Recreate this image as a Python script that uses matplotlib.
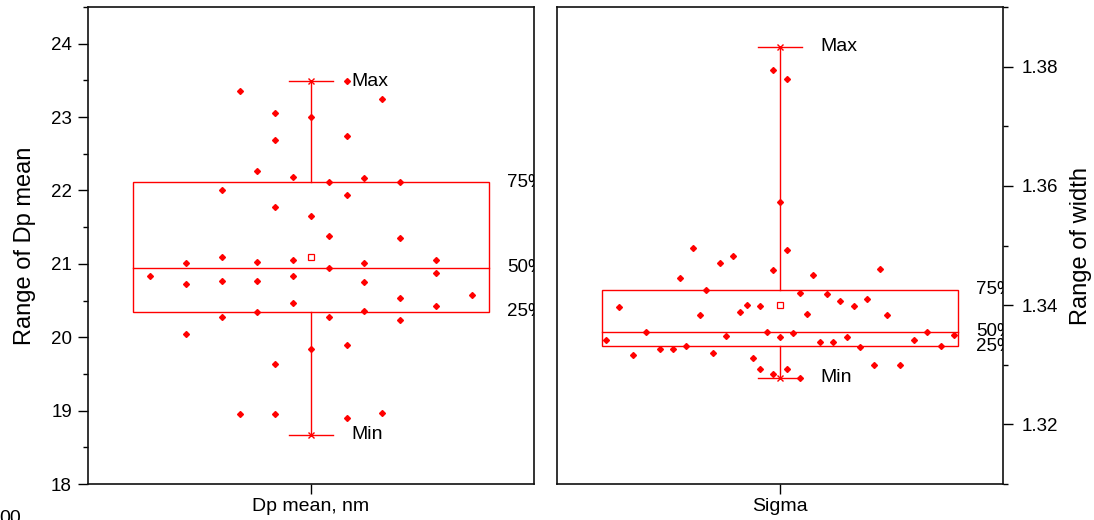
import matplotlib
matplotlib.use("Agg")
import matplotlib.pyplot as plt
from matplotlib.patches import Rectangle
from matplotlib.ticker import MultipleLocator, FormatStrFormatter

plt.rcParams['font.family'] = ['Liberation Sans', 'DejaVu Sans']

RED = '#FF0000'

# ---------------- data: Dp mean ----------------
dp_jitter = [-4, 2, -2, 0, 4, -2, 2, -3, -1, 1, 3, 5, -5, 2, -2, 0, 1, 5, -7, -5,
             -3, -1, 3, 7, 1, -9, 7, -7, -5, -3, -1, 3, 5, 9, -1, 7, -3, 3, -5, 1,
             5, -7, 0, 2, -2, -4, -2, 2, 4]
dp_values = [23.36, 23.49, 23.05, 23.00, 23.24, 22.69, 22.74, 22.27, 22.18, 22.11,
             22.17, 22.12, 22.01, 21.94, 21.77, 21.65, 21.38, 21.35, 21.01, 21.09,
             21.02, 21.05, 21.01, 21.05, 20.95, 20.84, 20.87, 20.73, 20.77, 20.77,
             20.84, 20.75, 20.54, 20.57, 20.46, 20.43, 20.35, 20.36, 20.27, 20.28,
             20.24, 20.05, 19.84, 19.90, 19.63, 18.96, 18.95, 18.90, 18.97]
# min, q1, median, q3, max, mean
dp_stats = [18.67, 20.35, 20.95, 22.11, 23.49, 21.10]

# ---------------- data: Sigma ----------------
sg_jitter = [-26, -24, -22, -20, -18, -16, -15, -14, -13, -12, -11, -10, -9, -8, -7,
             -6, -5, -4, -3, -3, -2, -1, -1, 0, 1, 1, 2, 3, 3, 4, 5, 6, 7, 8, 9, 10,
             11, 12, 13, 14, 15, 16, 18, 20, 22, 24, 26, -1, 1, 0]
sg_values = [1.3341, 1.3397, 1.3317, 1.3355, 1.3326, 1.3326, 1.3446, 1.3332, 1.3495,
             1.3383, 1.3426, 1.3319, 1.3470, 1.3348, 1.3483, 1.3389, 1.3401, 1.3312,
             1.3398, 1.3293, 1.3355, 1.3459, 1.3285, 1.3346, 1.3493, 1.3293, 1.3354,
             1.3420, 1.3278, 1.3385, 1.3450, 1.3338, 1.3418, 1.3338, 1.3407, 1.3346,
             1.3399, 1.3330, 1.3411, 1.3299, 1.3460, 1.3384, 1.3299, 1.3341, 1.3355,
             1.3331, 1.3350, 1.3794, 1.3779, 1.3573]
sg_stats = [1.3278, 1.3331, 1.3355, 1.3426, 1.3833, 1.3401]

pct_labels = ['25%', '50%', '75%']
x_labels = ['Dp mean, nm', 'Sigma']
y_labels = ['Range of Dp mean', 'Range of width']

fig = plt.figure(figsize=(10.94, 5.2), dpi=100)
axL = fig.add_axes([0.0804, 0.0692, 0.4077, 0.9173])
axR = fig.add_axes([0.5091, 0.0692, 0.4077, 0.9173])


def draw(ax, jitter, values, stats, spacing):
    mn, q1, med, q3, mx, mean = stats
    lw = 1.0
    ax.add_patch(Rectangle((-0.8, q1), 1.6, q3 - q1, fill=False, ec=RED, lw=lw, zorder=2))
    ax.plot([-0.8, 0.8], [med, med], color=RED, lw=lw, zorder=2)
    ax.plot([0, 0], [q3, mx], color=RED, lw=lw, zorder=2)
    ax.plot([0, 0], [mn, q1], color=RED, lw=lw, zorder=2)
    ax.plot([-0.1, 0.1], [mx, mx], color=RED, lw=lw, zorder=2)
    ax.plot([-0.1, 0.1], [mn, mn], color=RED, lw=lw, zorder=2)
    ax.plot([0, 0], [mn, mx], ls='none', marker='x', ms=5, mew=1.0, color=RED, zorder=3)
    ax.plot([0], [mean], ls='none', marker='s', ms=5, mfc='white', mec=RED, mew=0.9, zorder=3)
    ax.plot([j * spacing for j in jitter], values, ls='none', marker='D', ms=3.0,
            color=RED, mec=RED, zorder=4)
    ax.text(0.18, mx, 'Max', va='center', ha='left', fontsize=14)
    ax.text(0.18, mn, 'Min', va='center', ha='left', fontsize=14)
    for lab, v in zip(pct_labels, [q1, med, q3]):
        ax.text(0.88, v, lab, va='center', ha='left', fontsize=13.5, clip_on=True)
    ax.set_xlim(-1, 1)
    ax.set_xticks([0])
    ax.set_xticklabels([''])
    ax.tick_params(axis='x', direction='out', length=7, width=1.0)
    for s in ax.spines.values():
        s.set_linewidth(1.2)
        s.set_color('#111111')


draw(axL, dp_jitter, dp_values, dp_stats, 0.08)
draw(axR, sg_jitter, sg_values, sg_stats, 0.03)

# left axis
axL.set_ylim(18, 24.5)
axL.yaxis.set_major_locator(MultipleLocator(1))
axL.yaxis.set_minor_locator(MultipleLocator(0.5))
axL.yaxis.set_major_formatter(FormatStrFormatter('%d'))
axL.tick_params(axis='y', which='major', direction='out', length=7.5, width=1.0,
                labelsize=13.5, pad=4)
axL.tick_params(axis='y', which='minor', direction='out', length=3.5, width=1.0)
axL.set_ylabel(y_labels[0], fontsize=17)
axL.yaxis.label.set_va('center')
axL.yaxis.set_label_coords(-0.141, 0.5)
axL.set_xlabel(x_labels[0], fontsize=14)
axL.xaxis.label.set_va('center')
axL.xaxis.set_label_coords(0.5, -0.048)

# right axis
axR.set_ylim(1.31, 1.39)
axR.yaxis.tick_right()
axR.yaxis.set_label_position('right')
axR.yaxis.set_major_locator(MultipleLocator(0.02))
axR.yaxis.set_minor_locator(MultipleLocator(0.01))
axR.yaxis.set_major_formatter(FormatStrFormatter('%.2f'))
axR.tick_params(axis='y', which='major', direction='out', length=7.5, width=1.0,
                labelsize=13.5, pad=6)
axR.tick_params(axis='y', which='minor', direction='out', length=3.5, width=1.0)
axR.set_ylabel(y_labels[1], fontsize=17, rotation=90)
axR.yaxis.label.set_va('center')
axR.yaxis.set_label_coords(1.176, 0.5)
axR.set_xlabel(x_labels[1], fontsize=14)
axR.xaxis.label.set_va('center')
axR.xaxis.set_label_coords(0.5, -0.048)

fig.text(-0.001, -0.006, '00', fontsize=14, ha='left', va='baseline')

fig.savefig('out.png', dpi=100)
